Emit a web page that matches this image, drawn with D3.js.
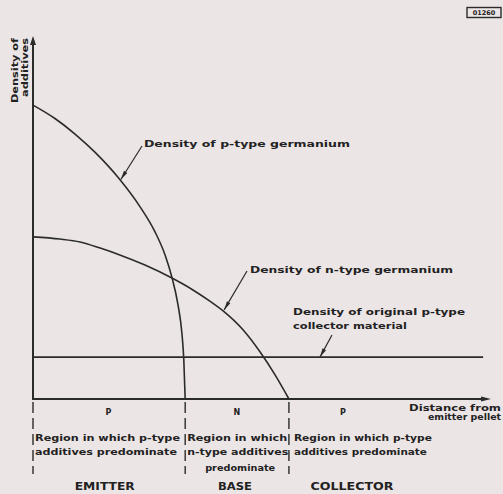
<!DOCTYPE html>
<html>
<head>
<meta charset="utf-8">
<script src="https://cdn.jsdelivr.net/npm/d3@7"></script>
<style>
  html, body { margin: 0; padding: 0; background: #ece5e5; }
  svg { display: block; }
  text { font-family: "DejaVu Sans", sans-serif; font-weight: bold; fill: #222; }
</style>
</head>
<body>
<svg id="chart" width="503" height="494"></svg>
<script>
// ---- data (distance units 0-100, density units 0-100) ----
const pTypeX = [0, 4.8, 9.2, 13.6, 19.0, 23.4, 26.7, 28.9, 30.4, 31.7, 32.6, 33.0, 33.3];
const pTypeY = [81.4, 77.7, 73.4, 68.3, 60.8, 53.3, 46.3, 39.9, 33.7, 26.3, 18.0, 10.8, 0];
const nTypeX = [0, 5.9, 10.3, 14.7, 19.0, 24.5, 30.4, 35.0, 38.7, 41.6, 46.0, 49.7, 53.0, 56.0];
const nTypeY = [44.9, 44.3, 43.5, 41.8, 39.9, 37.1, 33.5, 30.2, 27.1, 24.4, 19.1, 13.0, 6.6, 0];
const collectorX = [0, 98.5];
const collectorY = [11.6, 11.6];
const boundaries = [0, 33.3, 56.0];
const regionLetters = ["P", "N", "P"];
const regionLetterX = [16.5, 44.6, 67.8];
const regionNames = ["EMITTER", "BASE", "COLLECTOR"];
const regionNameX = [15.7, 44.2, 69.8];

const svg = d3.select("#chart");
const x = d3.scaleLinear().domain([0, 100]).range([33, 490]);
const y = d3.scaleLinear().domain([0, 100]).range([399, 38]);
const ink = "#2b2b2b";

// top-right reference box
svg.append("rect").attr("x", 467).attr("y", 7.5).attr("width", 34).attr("height", 10)
  .attr("fill", "none").attr("stroke", ink).attr("stroke-width", 1.4);
svg.append("text").attr("x", 484).attr("y", 15.3).attr("text-anchor", "middle")
  .attr("font-size", 6.5).text("01260");

// axes
const g = svg.append("g");
g.append("line").attr("x1", x(0)).attr("x2", x(0)).attr("y1", y(0) + 1).attr("y2", y(100) + 4)
  .attr("stroke", ink).attr("stroke-width", 2);
g.append("path").attr("d", `M${x(0)},${y(100) - 2} l-3,9 l6,0 z`).attr("fill", ink);
g.append("line").attr("x1", x(0) - 1).attr("x2", x(100) - 4).attr("y1", y(0)).attr("y2", y(0))
  .attr("stroke", ink).attr("stroke-width", 2);
g.append("path").attr("d", `M${x(100) + 1},${y(0)} l-10,-2.5 l0,5 z`).attr("fill", ink);

// curves
const line = d3.line().x(d => x(d[0])).y(d => y(d[1])).curve(d3.curveMonotoneX);
const series = [
  d3.zip(pTypeX, pTypeY),
  d3.zip(nTypeX, nTypeY),
  d3.zip(collectorX, collectorY)
];
g.selectAll("path.series").data(series).join("path")
  .attr("class", "series")
  .attr("d", line)
  .attr("fill", "none").attr("stroke", ink).attr("stroke-width", 1.6);

// region boundaries below axis
g.selectAll("line.bound").data(boundaries).join("line")
  .attr("class", "bound")
  .attr("x1", d => x(d)).attr("x2", d => x(d))
  .attr("y1", y(0) + 3).attr("y2", y(0) + 75)
  .attr("stroke", ink).attr("stroke-width", 1.4)
  .attr("stroke-dasharray", "11,5");

// annotations with leader arrows
function leader(tipX, tipY, fromX, fromY) {
  const dx = fromX - tipX, dy = fromY - tipY;
  const len = Math.hypot(dx, dy);
  const ux = dx / len, uy = dy / len;
  g.append("line").attr("x1", fromX).attr("y1", fromY).attr("x2", tipX).attr("y2", tipY)
    .attr("stroke", ink).attr("stroke-width", 1.2);
  const bx = tipX + ux * 9, by = tipY + uy * 9;
  g.append("path").attr("d",
    `M${tipX},${tipY} L${bx - uy * 2},${by + ux * 2} L${bx + uy * 2},${by - ux * 2} Z`)
    .attr("fill", ink);
}
function label(txt, px, py, len, size, anchor) {
  const t = svg.append("text").attr("x", px).attr("y", py).attr("font-size", size || 9.5)
    .attr("text-anchor", anchor || "start").text(txt);
  if (len) t.attr("textLength", len).attr("lengthAdjust", "spacingAndGlyphs");
  return t;
}

// p-type label
leader(x(19.0) + 1, y(60.8), 142, 146);
label("Density of p-type germanium", 144, 147, 206);
// n-type label
leader(x(41.6) + 1, y(24.4) - 1, 247, 271);
label("Density of n-type germanium", 250, 273, 203);
// collector label
leader(x(62.8), y(11.6), 332, 335);
label("Density of original p-type", 293, 315, 172);
label("collector material", 293, 329, 114);

// x-axis title
label("Distance from", 501, 411, 92, 8, "end");
label("emitter pellet", 501, 420, 73, 8, "end");

// y-axis title (rotated)
svg.append("text").attr("transform", "translate(18,38) rotate(-90)")
  .attr("text-anchor", "end").attr("font-size", 9.5)
  .attr("textLength", 65).attr("lengthAdjust", "spacingAndGlyphs").text("Density of");
svg.append("text").attr("transform", "translate(28,38) rotate(-90)")
  .attr("text-anchor", "end").attr("font-size", 9.5)
  .attr("textLength", 59).attr("lengthAdjust", "spacingAndGlyphs").text("additives");

// region letters
svg.selectAll("text.letter").data(regionLetters).join("text")
  .attr("class", "letter")
  .attr("x", (d, i) => x(regionLetterX[i])).attr("y", y(0) + 16)
  .attr("text-anchor", "middle").attr("font-size", 8).text(d => d);

// region descriptions
label("Region in which p-type", x(boundaries[0]) + 2, 441, 145, 9);
label("additives predominate", x(boundaries[0]) + 2, 455, 142, 9);
label("Region in which", x(boundaries[1]) + 2, 441, 100, 9);
label("n-type additives", x(boundaries[1]) + 2, 455, 101, 9);
label("predominate", x(boundaries[1]) + 20, 471, 70, 9);
label("Region in which p-type", x(boundaries[2]) + 5, 441, 138, 9);
label("additives predominate", x(boundaries[2]) + 5, 455, 133, 9);

// region names
const nameLens = [60, 34, 83];
svg.selectAll("text.rname").data(regionNames).join("text")
  .attr("class", "rname")
  .attr("x", (d, i) => x(regionNameX[i])).attr("y", 490)
  .attr("text-anchor", "middle").attr("font-size", 10.5)
  .attr("textLength", (d, i) => nameLens[i]).attr("lengthAdjust", "spacingAndGlyphs")
  .text(d => d);
</script>
</body>
</html>
